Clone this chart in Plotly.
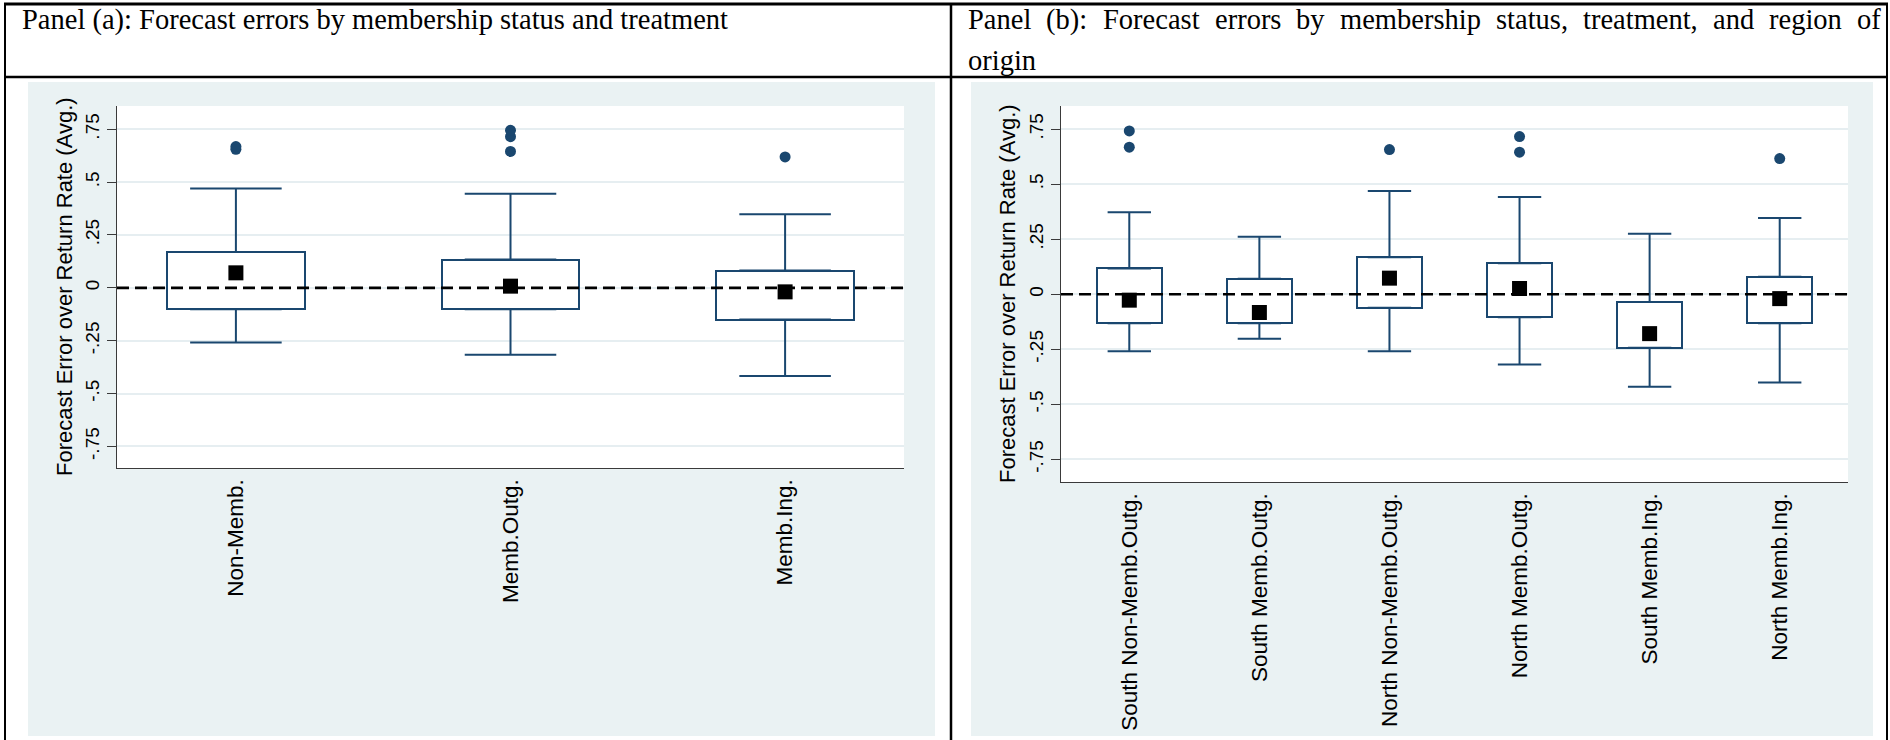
import plotly.graph_objects as go

W, H = 1890, 740

# ---------------- data ----------------
a_categories = ["Non-Memb.", "Memb.Outg.", "Memb.Ing."]
a_q1 = [-0.101, -0.101, -0.150]
a_q3 = [0.170, 0.134, 0.082]
a_lower = [-0.258, -0.316, -0.417]
a_upper = [0.470, 0.445, 0.348]
a_mean = [0.071, 0.008, -0.019]
a_outliers = [[0.655, 0.668], [0.645, 0.715, 0.745], [0.619]]

b_categories = ["South Non-Memb.Outg.", "South Memb.Outg.", "North Non-Memb.Outg.",
                "North Memb.Outg.", "South Memb.Ing.", "North Memb.Ing."]
b_q1 = [-0.132, -0.132, -0.062, -0.105, -0.243, -0.132]
b_q3 = [0.117, 0.070, 0.168, 0.141, -0.035, 0.079]
b_lower = [-0.259, -0.202, -0.259, -0.319, -0.420, -0.401]
b_upper = [0.372, 0.261, 0.469, 0.442, 0.275, 0.346]
b_mean = [-0.027, -0.083, 0.073, 0.026, -0.179, -0.020]
b_outliers = [[0.668, 0.742], [], [0.657], [0.645, 0.716], [], [0.616]]

y_tickvals = [-0.75, -0.5, -0.25, 0, 0.25, 0.5, 0.75]
y_ticktext = ["-.75", "-.5", "-.25", "0", ".25", ".5", ".75"]

y_title = "Forecast Error over Return Rate (Avg.)"
title_a = "Panel (a): Forecast errors by membership status and treatment"
title_b_line1 = "Panel (b): Forecast errors by membership status, treatment, and region of"
title_b_line2 = "origin"

# ---------------- style ----------------
NAVY = "#1A476F"
BG = "#EAF2F3"
GRID = "#E6EEF1"
AXIS = "#3a3a3a"
SANS = "Liberation Sans, Arial, sans-serif"
SERIF = "Liberation Serif, Times New Roman, serif"
HEAD_SIZE = 28.5

# Times / Liberation Serif advance widths (1/1000 em) used to justify the header line
TIMES_W = {"P": 556, "a": 444, "n": 500, "e": 444, "l": 278, " ": 250, "(": 333,
           "b": 500, ")": 333, ":": 278, "F": 556, "o": 500, "r": 333, "c": 444,
           "s": 389, "t": 278, "y": 500, "m": 778, "h": 500, "i": 278, "p": 500,
           "u": 500, ",": 250, "d": 500, "g": 500, "f": 333}


def text_width(s, size):
    return sum(TIMES_W.get(ch, 500) for ch in s) / 1000.0 * size


def fx(px):
    return px / W


def fy(py):
    return 1 - py / H


# plot areas in pixels (left, right, top, bottom)
area_a = (117, 904, 106, 468)
area_b = (1061, 1848, 106, 482)
xr_a = [0.567, 3.433]
xr_b = [0.475, 6.525]
yr_a = [-0.852, 0.860]
yr_b = [-0.853, 0.855]

fig = go.Figure()


def add_panel(xa, ya, q1, q3, lo, up, mean, outl, area, xr):
    n = len(q1)
    xs = list(range(1, n + 1))
    px_per_unit = (area[1] - area[0]) / (xr[1] - xr[0])
    cap_half = px_per_unit / 6.0
    # boxes
    fig.add_trace(go.Bar(
        x=xs, y=[b - a for a, b in zip(q1, q3)], base=q1, width=0.5,
        marker=dict(color="white", line=dict(color=NAVY, width=2)),
        xaxis=xa, yaxis=ya, showlegend=False, hoverinfo="skip"))
    # upper whiskers
    fig.add_trace(go.Scatter(
        x=xs, y=q3, mode="markers", marker=dict(size=0.1, color=NAVY, opacity=0),
        error_y=dict(type="data", symmetric=False,
                     array=[u - t for u, t in zip(up, q3)], arrayminus=[0] * n,
                     color=NAVY, thickness=2, width=cap_half),
        xaxis=xa, yaxis=ya, showlegend=False, hoverinfo="skip"))
    # lower whiskers
    fig.add_trace(go.Scatter(
        x=xs, y=q1, mode="markers", marker=dict(size=0.1, color=NAVY, opacity=0),
        error_y=dict(type="data", symmetric=False,
                     array=[0] * n, arrayminus=[b - l for b, l in zip(q1, lo)],
                     color=NAVY, thickness=2, width=cap_half),
        xaxis=xa, yaxis=ya, showlegend=False, hoverinfo="skip"))
    # zero reference line
    fig.add_trace(go.Scatter(
        x=xr, y=[0, 0], mode="lines",
        line=dict(color="black", width=2.6, dash="12px,6px"),
        xaxis=xa, yaxis=ya, showlegend=False, hoverinfo="skip"))
    # outliers
    ox, oy = [], []
    for i, vals in enumerate(outl):
        for v in vals:
            ox.append(xs[i])
            oy.append(v)
    fig.add_trace(go.Scatter(
        x=ox, y=oy, mode="markers",
        marker=dict(symbol="circle", size=11, color=NAVY),
        xaxis=xa, yaxis=ya, showlegend=False))
    # means
    fig.add_trace(go.Scatter(
        x=xs, y=mean, mode="markers",
        marker=dict(symbol="square", size=15, color="black"),
        xaxis=xa, yaxis=ya, showlegend=False))


add_panel("x", "y", a_q1, a_q3, a_lower, a_upper, a_mean, a_outliers, area_a, xr_a)
add_panel("x2", "y2", b_q1, b_q3, b_lower, b_upper, b_mean, b_outliers, area_b, xr_b)


def xaxis_cfg(area, xr, cats, anchor):
    return dict(domain=[fx(area[0]), fx(area[1])], range=xr, anchor=anchor,
                tickmode="array", tickvals=list(range(1, len(cats) + 1)), ticktext=cats,
                tickangle=-90, tickfont=dict(family=SANS, size=22.5, color="black"),
                showline=True, linecolor=AXIS, linewidth=1.3, ticks="",
                showgrid=False, zeroline=False, ticklabelstandoff=1, fixedrange=True)


def yaxis_cfg(area, yr, anchor):
    return dict(domain=[fy(area[3]), fy(area[2])], range=yr, anchor=anchor,
                tickmode="array", tickvals=y_tickvals, ticktext=y_ticktext,
                tickangle=-90, tickfont=dict(family=SANS, size=19, color="black"),
                showline=True, linecolor=AXIS, linewidth=1.3,
                ticks="outside", ticklen=9, tickwidth=1.3, tickcolor=AXIS,
                showgrid=True, gridcolor=GRID, gridwidth=2, zeroline=False, fixedrange=True)


shapes = []
# grey graph regions
for (x0, x1) in [(28, 935), (971, 1873)]:
    shapes.append(dict(type="rect", xref="paper", yref="paper",
                       x0=fx(x0), x1=fx(x1), y0=fy(736), y1=fy(82),
                       fillcolor=BG, line=dict(width=0), layer="below"))
# white plot regions
for area in (area_a, area_b):
    shapes.append(dict(type="rect", xref="paper", yref="paper",
                       x0=fx(area[0]), x1=fx(area[1]), y0=fy(area[3]), y1=fy(area[2]),
                       fillcolor="white", line=dict(width=0), layer="below"))


# table borders
def hline(y, x0, x1, w):
    shapes.append(dict(type="line", xref="paper", yref="paper", x0=fx(x0), x1=fx(x1),
                       y0=fy(y), y1=fy(y), line=dict(color="black", width=w)))


def vline(x, y0, y1, w):
    shapes.append(dict(type="line", xref="paper", yref="paper", x0=fx(x), x1=fx(x),
                       y0=fy(y0), y1=fy(y1), line=dict(color="black", width=w)))


hline(4, 4, 1888, 3)
hline(77, 4, 1888, 2.5)
vline(5, 3, 740, 2)
vline(951, 3, 740, 2.5)
vline(1887, 3, 740, 2)

annotations = []
LINE1_Y, LINE2_Y = 20, 60
annotations.append(dict(text=title_a, xref="paper", yref="paper", x=fx(20), y=fy(LINE1_Y),
                        xanchor="left", yanchor="middle", showarrow=False,
                        font=dict(family=SERIF, size=HEAD_SIZE, color="black")))
# justified first line of panel (b) header (cell text from x=967 to x=1879)
words = title_b_line1.split(" ")
left, right = 966, 1879
widths = [text_width(w_, HEAD_SIZE) for w_ in words]
gap = (right - left - sum(widths)) / (len(words) - 1)
pos = left
for word, ww in zip(words, widths):
    annotations.append(dict(text=word, xref="paper", yref="paper", x=fx(pos), y=fy(LINE1_Y),
                            xanchor="left", yanchor="middle", showarrow=False,
                            font=dict(family=SERIF, size=HEAD_SIZE, color="black")))
    pos += ww + gap
annotations.append(dict(text=title_b_line2, xref="paper", yref="paper", x=fx(left), y=fy(LINE2_Y),
                        xanchor="left", yanchor="middle", showarrow=False,
                        font=dict(family=SERIF, size=HEAD_SIZE, color="black")))
# y axis titles
for xc, area in [(65, area_a), (1008, area_b)]:
    annotations.append(dict(text=y_title, xref="paper", yref="paper",
                            x=fx(xc), y=fy((area[2] + area[3]) / 2), textangle=-90,
                            xanchor="center", yanchor="middle", showarrow=False,
                            font=dict(family=SANS, size=22, color="black")))

fig.update_layout(
    width=W, height=H, margin=dict(l=0, r=0, t=0, b=0),
    paper_bgcolor="white", plot_bgcolor="white",
    xaxis=xaxis_cfg(area_a, xr_a, a_categories, "y"),
    yaxis=yaxis_cfg(area_a, yr_a, "x"),
    xaxis2=xaxis_cfg(area_b, xr_b, b_categories, "y2"),
    yaxis2=yaxis_cfg(area_b, yr_b, "x2"),
    shapes=shapes, annotations=annotations, showlegend=False,
    bargap=0, barmode="overlay",
)

fig.write_html("out.html", config={"displayModeBar": False, "responsive": False},
               post_script="document.body.style.margin='0';")
